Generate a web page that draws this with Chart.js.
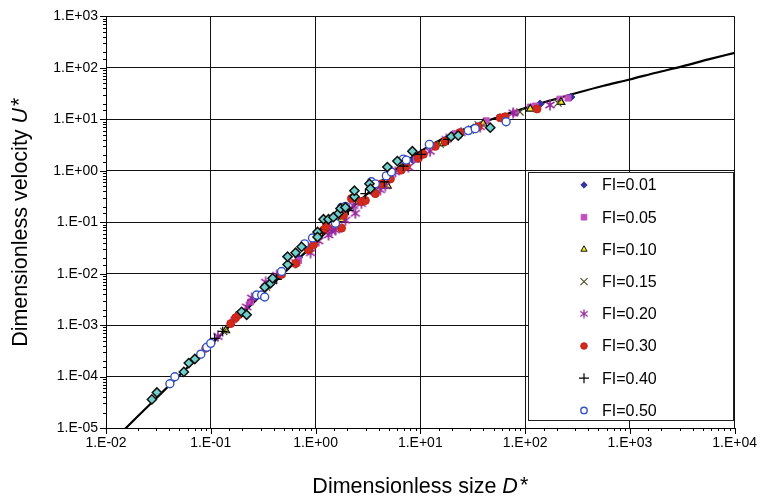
<!DOCTYPE html>
<html>
<head>
<meta charset="utf-8">
<script src="https://cdn.jsdelivr.net/npm/chart.js@4/dist/chart.umd.min.js"></script>
<style>
  html, body { margin: 0; padding: 0; background: #fff; }
  #wrap { width: 764px; height: 501px; }
</style>
</head>
<body>
<div id="wrap"><canvas id="c" width="764" height="501"></canvas></div>
<script>
// Fitted settling curve, dimensionless size D* vs dimensionless velocity U*
const fitD = [0.0122, 0.0155, 0.02, 0.0316, 0.1, 0.316, 1, 1.78, 3.16, 5.62, 10, 17.8, 31.6, 56.2, 100, 178, 316, 562, 1000, 1778, 3162, 5623, 10000];
const fitU = [6.2e-6, 1.0e-5, 1.67e-5, 4.17e-5, 4.16e-4, 4.15e-3, 0.0405, 0.124, 0.365, 1.0, 2.38, 4.6, 7.4, 11.2, 16.5, 23.5, 32.9, 45.0, 59.5, 80.5, 107, 146, 196];

// Measured particles, one pair of arrays per FI value
const fi001D = [0.689, 2.57, 8.58, 28.7, 139, 274];
const fi001U = [0.0205, 0.264, 1.61, 6.30, 19.8, 27.0];

const fi005D = [0.166, 0.240, 0.689, 1.45, 3.56, 9.16, 21.5, 42.6, 80.4, 112, 125, 215, 257];
const fi005U = [1.27e-3, 2.82e-3, 0.0179, 0.0767, 0.392, 1.68, 5.27, 9.36, 13.3, 17.3, 18.1, 24.7, 25.8];

const fi010D = [0.139, 0.857, 1.77, 2.57, 4.85, 15.8, 39.8, 112, 220];
const fi010U = [7.85e-4, 0.0318, 0.114, 0.252, 0.510, 3.40, 8.20, 15.9, 21.6];

const fi015D = [0.133, 0.341, 0.896, 1.85, 3.81, 6.89, 15.5, 35.6, 89.5, 206];
const fi015U = [7.52e-4, 5.46e-3, 0.0318, 0.130, 0.428, 1.18, 3.25, 7.85, 13.9, 20.7];

const fi020D = [0.117, 0.220, 0.246, 0.334, 0.426, 0.645, 0.896, 1.07, 1.33, 1.42, 1.55, 1.93, 2.30, 2.40, 2.74, 4.16, 4.64, 5.78, 7.69, 12.4, 17.7, 24.5, 37.3, 76.9, 173];
const fi020U = [6.03e-4, 2.26e-3, 3.36e-3, 6.81e-3, 9.27e-3, 0.0164, 0.0255, 0.0433, 0.0564, 0.0673, 0.0703, 0.109, 0.211, 0.149, 0.231, 0.428, 0.510, 0.947, 1.18, 2.39, 4.06, 5.52, 7.18, 13.3, 19.0];

const fi030D = [0.0896, 0.155, 0.173, 0.185, 0.474, 0.645, 0.857, 0.957, 1.19, 1.27, 1.77, 1.85, 2.20, 2.74, 2.99, 3.72, 4.25, 5.18, 6.59, 7.36, 9.58, 10.7, 13.9, 17.3, 24.0, 35.6, 57.8, 64.5, 130];
const fi030U = [3.55e-4, 1.07e-3, 1.39e-3, 1.59e-3, 9.68e-3, 0.0157, 0.0291, 0.0363, 0.0703, 0.0838, 0.0767, 0.136, 0.288, 0.252, 0.264, 0.359, 0.557, 0.695, 1.03, 1.23, 1.75, 2.09, 2.98, 3.71, 5.52, 7.18, 10.7, 11.2, 15.9];

const fi040D = [0.109, 0.130, 0.426, 0.553, 1.12, 2.06, 2.99, 4.54, 6.89, 10.2, 18.5, 32.0];
const fi040U = [5.52e-4, 7.52e-4, 7.76e-3, 0.0150, 0.0615, 0.170, 0.359, 0.610, 1.23, 2.09, 4.06, 6.58];

const fi050D = [0.0407, 0.0454, 0.0803, 0.0917, 0.100, 0.274, 0.306, 0.327, 0.474, 0.785, 0.935, 1.55, 1.77, 1.93, 3.41, 3.72, 4.74, 5.29, 6.89, 7.36, 12.2, 28.7, 33.4, 65.9];
const fi050U = [7.26e-5, 9.89e-5, 2.72e-4, 3.71e-4, 4.42e-4, 3.84e-3, 3.84e-3, 3.51e-3, 0.0110, 0.0379, 0.0494, 0.0957, 0.194, 0.202, 0.610, 0.557, 0.794, 0.947, 1.68, 1.61, 3.25, 6.03, 6.58, 8.95];

// Natural sediment grains (not listed in the key)
const natD = [0.0274, 0.0306, 0.0553, 0.0617, 0.0704, 0.197, 0.220, 0.327, 0.372, 0.389, 0.541, 0.541, 0.645, 0.736, 1.045, 1.045, 1.19, 1.33, 1.48, 1.66, 1.73, 1.93, 2.35, 2.35, 3.27, 3.34, 4.85, 6.04, 8.40, 19.7, 23.0, 46.5];
const natU = [3.59e-5, 4.89e-5, 1.23e-4, 1.83e-4, 2.19e-4, 1.81e-3, 1.59e-3, 5.46e-3, 6.50e-3, 8.11e-3, 0.0150, 0.0214, 0.0255, 0.0332, 0.0644, 0.0516, 0.114, 0.114, 0.125, 0.149, 0.185, 0.194, 0.315, 0.409, 0.557, 0.448, 1.18, 1.54, 2.39, 4.62, 4.83, 6.87];

const seriesLabels = ['FI=0.01', 'FI=0.05', 'FI=0.10', 'FI=0.15', 'FI=0.20', 'FI=0.30', 'FI=0.40', 'FI=0.50'];

const xMin = 1e-2, xMax = 1e4, yMin = 1e-5, yMax = 1e3;

const FONT = '"Liberation Sans", Arial, Helvetica, sans-serif';

function zip(xs, ys) { return xs.map((x, i) => ({ x: x, y: ys[i] })); }

// six-armed asterisk marker
function makeAsterisk(size, color, lw) {
  const c = document.createElement('canvas');
  c.width = size; c.height = size;
  const g = c.getContext('2d');
  g.strokeStyle = color; g.lineWidth = lw; g.lineCap = 'butt';
  const m = size / 2, r = size / 2 - 0.5;
  g.beginPath();
  g.moveTo(m, m - r); g.lineTo(m, m + r);
  const a = Math.PI / 5.2;
  g.moveTo(m - r * Math.cos(a), m - r * Math.sin(a)); g.lineTo(m + r * Math.cos(a), m + r * Math.sin(a));
  g.moveTo(m - r * Math.cos(a), m + r * Math.sin(a)); g.lineTo(m + r * Math.cos(a), m - r * Math.sin(a));
  g.stroke();
  return c;
}
const starBig = makeAsterisk(12, '#93239a', 1.6);
const starSmall = makeAsterisk(10, '#93239a', 1.2);

const styles = [
  { pointStyle: 'rectRot', radius: 4, legendRadius: 3.2, backgroundColor: '#33349a', borderColor: '#33349a', borderWidth: 1 },
  { pointStyle: 'rect', radius: 4.2, legendRadius: 4, backgroundColor: '#c24fc0', borderColor: '#c24fc0', borderWidth: 1 },
  { pointStyle: 'triangle', radius: 4.5, legendRadius: 3.6, backgroundColor: '#f2ee1a', borderColor: '#111', borderWidth: 1.2 },
  { pointStyle: 'crossRot', radius: 5, legendRadius: 5, backgroundColor: '#55552a', borderColor: '#55552a', borderWidth: 1.2 },
  { pointStyle: starBig, legendStyle: starSmall, radius: 6, legendRadius: 5, backgroundColor: '#93239a', borderColor: '#93239a', borderWidth: 1.2 },
  { pointStyle: 'circle', radius: 4, legendRadius: 3.3, backgroundColor: '#d22a1c', borderColor: '#c02416', borderWidth: 1 },
  { pointStyle: 'cross', radius: 5, legendRadius: 5, backgroundColor: '#000', borderColor: '#000', borderWidth: 1.2 },
  { pointStyle: 'circle', radius: 4, legendRadius: 3.2, backgroundColor: '#fff', borderColor: '#3550c4', borderWidth: 1.4 }
];

const seriesData = [
  zip(fi001D, fi001U), zip(fi005D, fi005U), zip(fi010D, fi010U), zip(fi015D, fi015U),
  zip(fi020D, fi020U), zip(fi030D, fi030U), zip(fi040D, fi040U), zip(fi050D, fi050U)
];

const datasets = [];
datasets.push({
  label: 'fit',
  type: 'line',
  data: zip(fitD, fitU),
  borderColor: '#000',
  borderWidth: 2.2,
  pointRadius: 0,
  showLine: true,
  cubicInterpolationMode: 'monotone',
  fill: false,
  order: 50
});
seriesData.forEach((pts, i) => {
  const s = styles[i];
  datasets.push({
    label: seriesLabels[i],
    data: pts,
    showLine: false,
    pointStyle: s.pointStyle,
    pointRadius: s.radius,
    pointBackgroundColor: s.backgroundColor,
    pointBorderColor: s.borderColor,
    pointBorderWidth: s.borderWidth,
    order: 20 - i
  });
});
datasets.push({
  label: 'natural',
  data: zip(natD, natU),
  showLine: false,
  pointStyle: 'rectRot',
  pointRadius: 4.6,
  pointBackgroundColor: '#6fd0cc',
  pointBorderColor: '#111',
  pointBorderWidth: 1.5,
  order: 1
});

function isDecade(v) {
  const e = Math.log10(v);
  return Math.abs(e - Math.round(e)) < 1e-9;
}
function sciLabel(v) {
  const e = Math.round(Math.log10(v));
  const s = String(Math.abs(e)).padStart(2, '0');
  return '1.E' + (e < 0 ? '-' : '+') + s;
}

// minor/major tick marks outside the plot frame
const tickMarks = {
  id: 'tickMarks',
  afterDraw(chart) {
    const ctx = chart.ctx;
    const xs = chart.scales.x, ys = chart.scales.y;
    const area = chart.chartArea;
    ctx.save();
    ctx.strokeStyle = '#000';
    ctx.lineWidth = 1;
    ctx.beginPath();
    ys.ticks.forEach(t => {
      const y = Math.round(ys.getPixelForValue(t.value)) + 0.5;
      const len = isDecade(t.value) ? 6 : 3;
      ctx.moveTo(area.left - len, y); ctx.lineTo(area.left, y);
    });
    xs.ticks.forEach(t => {
      const x = Math.round(xs.getPixelForValue(t.value)) + 0.5;
      const len = isDecade(t.value) ? 6 : 3;
      ctx.moveTo(x, area.bottom); ctx.lineTo(x, area.bottom + len);
    });
    ctx.stroke();
    ctx.restore();
  }
};

// axis titles with italic symbols
const axisTitles = {
  id: 'axisTitles',
  afterDraw(chart) {
    const ctx = chart.ctx;
    const area = chart.chartArea;
    function drawTitle(plain, sym, cx, cy, rot) {
      ctx.save();
      ctx.translate(cx, cy);
      ctx.rotate(rot);
      ctx.fillStyle = '#000';
      ctx.textBaseline = 'middle';
      const fN = '21.5px ' + FONT, fI = 'italic 21.5px ' + FONT;
      ctx.font = fN; const w1 = ctx.measureText(plain).width;
      ctx.font = fI; const w2 = ctx.measureText(sym).width;
      ctx.font = fN; const w3 = ctx.measureText('*').width;
      const gap = 2;
      const total = w1 + w2 + gap + w3;
      let x = -total / 2;
      ctx.textAlign = 'left';
      ctx.font = fN; ctx.fillText(plain, x, 0); x += w1;
      ctx.font = fI; ctx.fillText(sym, x, 0); x += w2 + gap;
      ctx.font = fN; ctx.fillText('*', x, -1);
      ctx.restore();
    }
    drawTitle('Dimensionless size ', 'D', (area.left + area.right) / 2, 487, 0);
    drawTitle('Dimensionless velocity ', 'U', 21, (area.top + area.bottom) / 2, -Math.PI / 2);
  }
};

// boxed key in the lower right of the plot
const keyBox = {
  id: 'keyBox',
  afterDatasetsDraw(chart) {
    const ctx = chart.ctx;
    const left = 528, top = 172, right = 733, bottom = 420;
    ctx.save();
    ctx.fillStyle = '#fff';
    ctx.fillRect(left, top, right - left, bottom - top);
    ctx.strokeStyle = '#222';
    ctx.lineWidth = 1;
    ctx.strokeRect(left + 0.5, top + 0.5, right - left, bottom - top);
    ctx.font = '16px ' + FONT;
    ctx.textBaseline = 'middle';
    ctx.textAlign = 'left';
    const step = 32.2;
    seriesLabels.forEach((lab, i) => {
      const s = styles[i];
      const y = 185 + i * step;
      ctx.fillStyle = s.backgroundColor;
      ctx.strokeStyle = s.borderColor;
      ctx.lineWidth = s.pointStyle === 'triangle' ? 1 : s.borderWidth;
      Chart.helpers.drawPoint(ctx, {
        pointStyle: s.legendStyle || s.pointStyle,
        radius: s.legendRadius,
        rotation: 0,
        borderWidth: s.borderWidth
      }, 584, y);
      ctx.fillStyle = '#000';
      ctx.fillText(lab, 602, y + 1);
    });
    ctx.restore();
  }
};

new Chart(document.getElementById('c'), {
  type: 'scatter',
  data: { datasets: datasets },
  options: {
    responsive: false,
    animation: false,
    devicePixelRatio: 1,
    layout: { padding: { top: 10, right: 29, left: 0, bottom: 0 } },
    plugins: { legend: { display: false }, tooltip: { enabled: false } },
    scales: {
      x: {
        type: 'logarithmic',
        position: 'bottom',
        min: xMin, max: xMax,
        afterFit(scale) { scale.height = 73; },
        border: { display: true, color: '#000', width: 1 },
        grid: {
          drawTicks: false,
          lineWidth: 1,
          color: c => (c.tick && isDecade(c.tick.value)) ? '#111' : 'rgba(0,0,0,0)'
        },
        ticks: {
          autoSkip: false, maxRotation: 0, padding: 7,
          color: '#000', font: { family: FONT, size: 14 },
          callback: v => isDecade(v) ? sciLabel(v) : ''
        }
      },
      y: {
        type: 'logarithmic',
        position: 'left',
        min: yMin, max: yMax,
        afterFit(scale) { scale.width = 106; },
        border: { display: true, color: '#000', width: 1 },
        grid: {
          drawTicks: false,
          lineWidth: 1,
          color: c => (c.tick && isDecade(c.tick.value)) ? '#111' : 'rgba(0,0,0,0)'
        },
        ticks: {
          autoSkip: false, padding: 8,
          color: '#000', font: { family: FONT, size: 14 },
          callback: v => isDecade(v) ? sciLabel(v) : ''
        }
      }
    }
  },
  plugins: [tickMarks, axisTitles, keyBox]
});
</script>
</body>
</html>
